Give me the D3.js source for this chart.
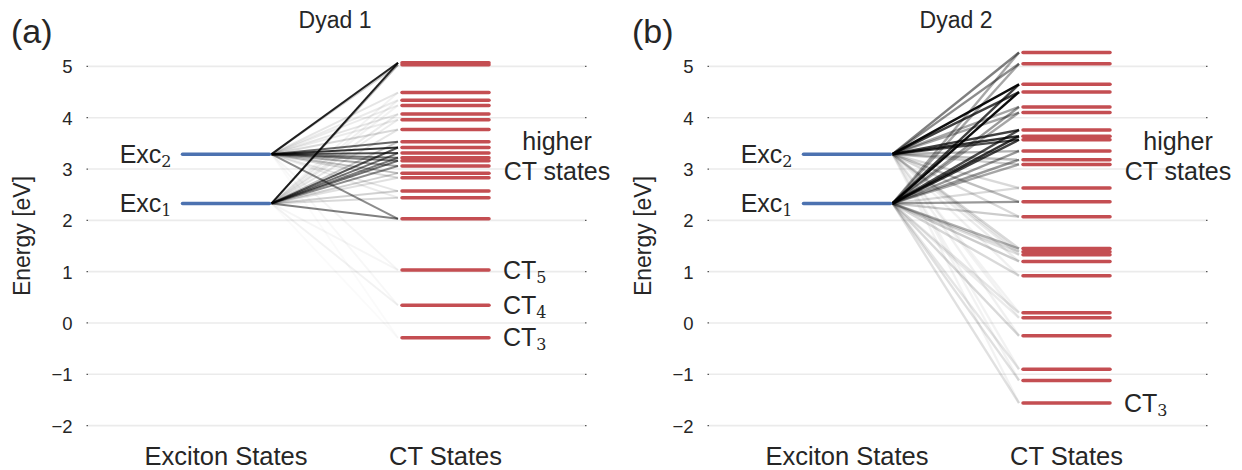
<!DOCTYPE html>
<html>
<head>
<meta charset="utf-8">
<script src="https://cdn.jsdelivr.net/npm/d3@7"></script>
<style>
  html, body { margin: 0; padding: 0; background: #fff; }
  svg text { font-family: "Liberation Sans", Arial, sans-serif; fill: #262626; }
  .sub { font-family: "DejaVu Serif", "Liberation Serif", serif; }
</style>
</head>
<body>
<svg id="chart" width="1242" height="470"></svg>
<script>
// State categories on the x axis
const categories = ["Exciton States", "CT States"];
const yTicks = [-2, -1, 0, 1, 2, 3, 4, 5];

// Exciton energies (eV), identical in both dyads
const excEnergies = [2.33, 3.29];

// Dyad 1: charge-transfer state energies (eV)
const ct1 = [5.07, 5.03, 4.49, 4.34, 4.24, 4.07, 3.96, 3.77, 3.53, 3.42, 3.31,
             3.22, 3.16, 3.06, 2.92, 2.83, 2.57, 2.44, 2.03, 1.03, 0.345, -0.29];
// Dyad 1: coupling weights Exc1 -> CT and Exc2 -> CT
const w1Exc1 = [0.85, 0.3, 0.05, 0.06, 0.05, 0.08, 0.08, 0.1, 0.22, 0.65, 0.55,
                0.5, 0.55, 0.45, 0.18, 0.12, 0.18, 0.15, 0.5, 0.04, 0.05, 0.02];
const w1Exc2 = [0.85, 0.2, 0.1, 0.08, 0.08, 0.1, 0.08, 0.15, 0.6, 0.8, 0.7,
                0.55, 0.5, 0.35, 0.25, 0.15, 0.1, 0.08, 0.45, 0.04, 0.03, 0.02];

// Dyad 2: charge-transfer state energies (eV)
const ct2 = [5.27, 5.05, 4.65, 4.50, 4.21, 4.10, 3.76, 3.64, 3.57, 3.35, 3.18,
             3.09, 2.63, 2.36, 2.07, 1.45, 1.39, 1.33, 1.20, 0.92, 0.20, 0.10,
             -0.25, -0.90, -1.12, -1.56];
// Dyad 2: coupling weights Exc1 -> CT and Exc2 -> CT
const w2Exc1 = [0.35, 0.35, 0.75, 0.95, 0.4, 0.35, 0.7, 0.8, 0.75, 0.4, 0.4,
                0.35, 0.15, 0.4, 0.2, 0.3, 0.15, 0.12, 0.2, 0.15, 0.1, 0.08,
                0.15, 0.1, 0.12, 0.12];
const w2Exc2 = [0.5, 0.45, 0.95, 0.75, 0.35, 0.35, 0.75, 0.8, 0.7, 0.3, 0.25,
                0.2, 0.15, 0.25, 0.15, 0.15, 0.1, 0.08, 0.08, 0.06, 0.05, 0.05,
                0.06, 0.05, 0.05, 0.05];

const panels = [
  { tag: "(a)", title: "Dyad 1", ct: ct1, w: [w1Exc1, w1Exc2], lw: 2,
    ctLabels: [{ e: 1.03, t: "CT", s: "5" }, { e: 0.345, t: "CT", s: "4" }, { e: -0.29, t: "CT", s: "3" }] },
  { tag: "(b)", title: "Dyad 2", ct: ct2, w: [w2Exc1, w2Exc2], lw: 2.4,
    ctLabels: [{ e: -1.56, t: "CT", s: "3" }] }
];

const svg = d3.select("#chart");
const y = d3.scaleLinear().domain([-2, 5]).range([425.6, 66.4]);
const halfBar = 43.5;
const panelShift = 621;

panels.forEach((p, i) => {
  const ox = i * panelShift;
  const g = svg.append("g").attr("transform", `translate(${ox},0)`);
  const x = d3.scalePoint().domain(categories).range([226, 445.5]);

  // horizontal grid lines
  g.append("g").selectAll("line").data(yTicks).join("line")
    .attr("x1", 88).attr("x2", 585)
    .attr("y1", d => y(d)).attr("y2", d => y(d))
    .attr("stroke", "#ebebeb").attr("stroke-width", 1.6);
  // tiny tick marks at both ends
  g.append("g").selectAll("line").data(yTicks).join("line")
    .attr("x1", 86.5).attr("x2", 88)
    .attr("y1", d => y(d)).attr("y2", d => y(d))
    .attr("stroke", "#555").attr("stroke-width", 1.2);
  g.append("g").selectAll("line").data(yTicks).join("line")
    .attr("x1", 585).attr("x2", 586.5)
    .attr("y1", d => y(d)).attr("y2", d => y(d))
    .attr("stroke", "#555").attr("stroke-width", 1.2);

  // y axis tick labels
  const axis = d3.axisLeft(y).tickValues(yTicks).tickSize(0).tickPadding(0)
    .tickFormat(d3.format("d"));
  const ax = g.append("g").attr("transform", "translate(72.5,0)").call(axis);
  ax.select(".domain").remove();
  ax.selectAll("text").attr("font-size", 18.5).attr("fill", "#262626")
    .attr("font-family", "Liberation Sans, Arial, sans-serif").attr("dy", "0.35em");

  // axis title
  g.append("text").attr("transform", "translate(30,236) rotate(-90)")
    .attr("text-anchor", "middle").attr("font-size", 23).text("Energy [eV]");

  // category labels
  g.append("g").selectAll("text").data(categories).join("text")
    .attr("x", d => x(d)).attr("y", 465).attr("text-anchor", "middle")
    .attr("font-size", 25.5).text(d => d);

  // panel title and tag
  g.append("text").attr("x", 335).attr("y", 28).attr("text-anchor", "middle")
    .attr("font-size", 23).text(p.title);
  g.append("text").attr("x", 11).attr("y", 43).attr("font-size", 34).text(p.tag);

  // coupling lines, weaker ones underneath
  const links = [];
  p.w.forEach((ws, k) => ws.forEach((w, j) => links.push({ e0: excEnergies[k], e1: p.ct[j], w })));
  links.sort((a, b) => a.w - b.w);
  g.append("g").selectAll("line").data(links).join("line")
    .attr("x1", x("Exciton States") + halfBar + 2)
    .attr("x2", x("CT States") - halfBar - 4)
    .attr("y1", d => y(d.e0)).attr("y2", d => y(d.e1))
    .attr("stroke", "#000").attr("stroke-opacity", d => d.w)
    .attr("stroke-width", p.lw);

  // exciton levels
  g.append("g").selectAll("line").data(excEnergies).join("line")
    .attr("x1", x("Exciton States") - halfBar).attr("x2", x("Exciton States") + halfBar)
    .attr("y1", d => y(d)).attr("y2", d => y(d))
    .attr("stroke", "#4c72b0").attr("stroke-width", 3.5).attr("stroke-linecap", "round");

  // CT levels
  g.append("g").selectAll("line").data(p.ct).join("line")
    .attr("x1", x("CT States") - halfBar).attr("x2", x("CT States") + halfBar)
    .attr("y1", d => y(d)).attr("y2", d => y(d))
    .attr("stroke", "#c44e52").attr("stroke-width", 3.5).attr("stroke-linecap", "round");

  // exciton labels
  const exLab = g.append("g").selectAll("text").data(excEnergies).join("text")
    .attr("x", x("Exciton States") - halfBar - 11).attr("y", d => y(d) + 8.5)
    .attr("text-anchor", "end").attr("font-size", 25);
  exLab.append("tspan").text("Exc");
  exLab.append("tspan").attr("class", "sub").attr("font-size", 16).attr("dy", 4)
    .text((d, k) => String(k + 1));

  // CT labels
  const ctLab = g.append("g").selectAll("text").data(p.ctLabels).join("text")
    .attr("x", x("CT States") + halfBar + 14).attr("y", d => y(d.e) + 8.5)
    .attr("font-size", 25);
  ctLab.append("tspan").text(d => d.t);
  ctLab.append("tspan").attr("class", "sub").attr("font-size", 16).attr("dy", 4).text(d => d.s);

  // higher CT states label
  const hi = g.append("text").attr("text-anchor", "middle").attr("font-size", 25);
  hi.append("tspan").attr("x", 557).attr("y", 150).text("higher");
  hi.append("tspan").attr("x", 557).attr("y", 180).text("CT states");
});
</script>
</body>
</html>
